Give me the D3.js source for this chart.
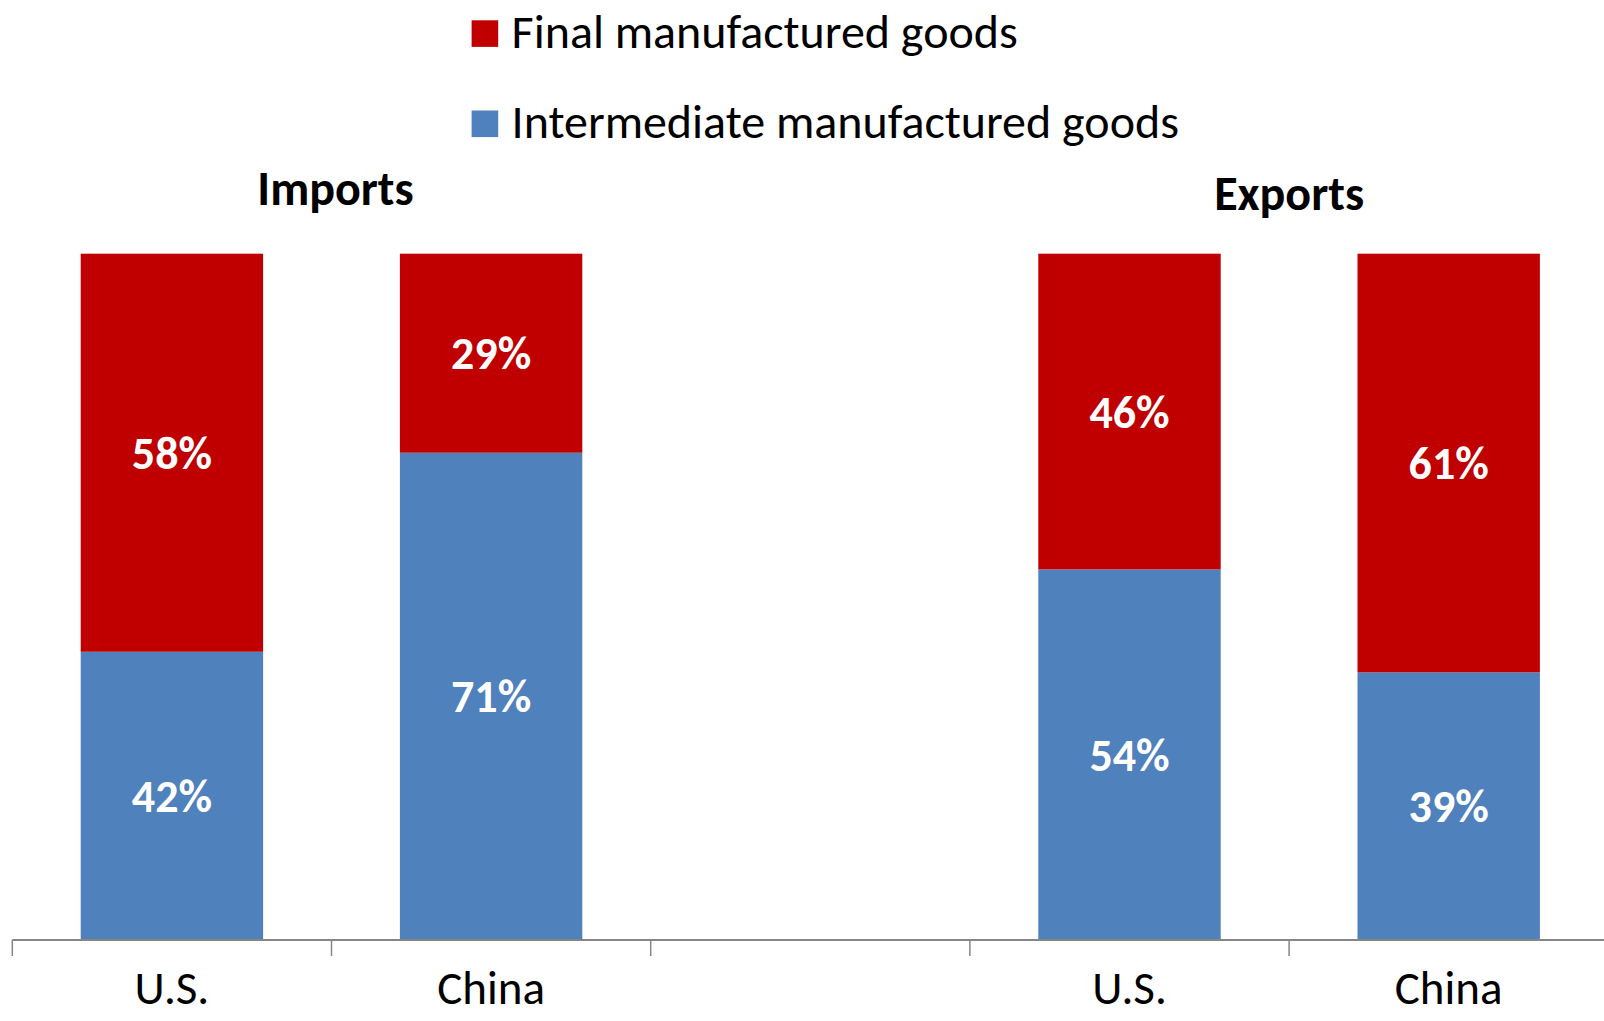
<!DOCTYPE html>
<html>
<head>
<meta charset="utf-8">
<script src="https://cdn.jsdelivr.net/npm/d3@7"></script>
<style>
  body { margin: 0; background: #fff; }
  svg { display: block; font-family: Calibri, Carlito, Lato, sans-serif; }
</style>
</head>
<body>
<svg id="chart"></svg>
<script>
// chart values
const groups = ["Imports", "Exports"];
const countries = ["U.S.", "China"];
const intermediate = [[42, 71], [54, 39]];   // per group, per country
const finalGoods = [[58, 29], [46, 61]];
const seriesNames = ["Final manufactured goods", "Intermediate manufactured goods"];
const colors = ["#C00000", "#4F81BD"];

const svgWidth = 1604, svgHeight = 1021;
const svg = d3.select("#chart").attr("width", svgWidth).attr("height", svgHeight);

// one flat row per bar, with an empty slot between the two groups
const slots = [];
groups.forEach((g, gi) => {
    countries.forEach((c, ci) => slots.push({ key: g + "|" + c, group: g, country: c,
        inter: intermediate[gi][ci], fin: finalGoods[gi][ci] }));
    if (gi < groups.length - 1) slots.push({ key: "gap" + gi, group: null });
});

const x = d3.scaleBand()
    .domain(slots.map(d => d.key))
    .range([12.3, 1608.3])
    .paddingInner(0);

const y = d3.scaleLinear()
    .domain([0, 100])
    .range([940, 253.7]);

const bw = x.bandwidth();
const barW = bw / 1.75;   // excel gap width 75%

const bars = slots.filter(d => d.group);

// stacked segments
const segs = svg.append("g");
bars.forEach(d => {
    const x0 = x(d.key) + (bw - barW) / 2;
    segs.append("rect")
        .attr("x", x0).attr("width", barW)
        .attr("y", y(d.inter)).attr("height", y(0) - y(d.inter))
        .attr("fill", colors[1]);
    segs.append("rect")
        .attr("x", x0).attr("width", barW)
        .attr("y", y(d.inter + d.fin)).attr("height", y(d.inter) - y(d.inter + d.fin))
        .attr("fill", colors[0]);

    segs.append("text")
        .attr("x", x(d.key) + bw / 2)
        .attr("y", y(d.inter / 2))
        .attr("dy", "0.35em")
        .attr("text-anchor", "middle")
        .attr("fill", "#fff")
        .attr("font-weight", "bold")
        .attr("font-size", 46)
        .text(d.inter + "%");
    segs.append("text")
        .attr("x", x(d.key) + bw / 2)
        .attr("y", y(d.inter + d.fin / 2))
        .attr("dy", "0.35em")
        .attr("text-anchor", "middle")
        .attr("fill", "#fff")
        .attr("font-weight", "bold")
        .attr("font-size", 46)
        .text(d.fin + "%");
});

// category axis: line, ticks on band edges, labels in the middle
const axis = svg.append("g");
axis.append("line")
    .attr("x1", x.range()[0]).attr("x2", svgWidth)
    .attr("y1", y(0)).attr("y2", y(0))
    .attr("stroke", "#868686").attr("stroke-width", 2);
axis.selectAll("line.tick")
    .data(slots)
    .join("line")
    .attr("class", "tick")
    .attr("x1", d => x(d.key)).attr("x2", d => x(d.key))
    .attr("y1", y(0)).attr("y2", y(0) + 16)
    .attr("stroke", "#868686").attr("stroke-width", 1.5);
axis.selectAll("text")
    .data(bars)
    .join("text")
    .attr("x", d => x(d.key) + bw / 2)
    .attr("y", 1004)
    .attr("text-anchor", "middle")
    .attr("font-size", 47)
    .attr("fill", "#000")
    .text(d => d.country);

// group titles, centred over each pair
const titleY = { "Imports": 205, "Exports": 210 };
const titleDx = { "Imports": 4, "Exports": 0 };
svg.selectAll("text.group")
    .data(groups)
    .join("text")
    .attr("class", "group")
    .attr("x", g => x(g + "|" + countries[1]) + titleDx[g])
    .attr("y", g => titleY[g])
    .attr("text-anchor", "middle")
    .attr("font-weight", "bold")
    .attr("font-size", 48)
    .text(g => g);

// legend
const legend = svg.append("g").attr("transform", "translate(471.6,20.3)");
seriesNames.forEach((name, i) => {
    const row = legend.append("g").attr("transform", `translate(0,${i * 90.2})`);
    row.append("rect").attr("width", 26.6).attr("height", 26.6).attr("fill", colors[i]);
    row.append("text")
        .attr("x", 40).attr("y", 27.5)
        .attr("font-size", 48)
        .text(name);
});
</script>
</body>
</html>
